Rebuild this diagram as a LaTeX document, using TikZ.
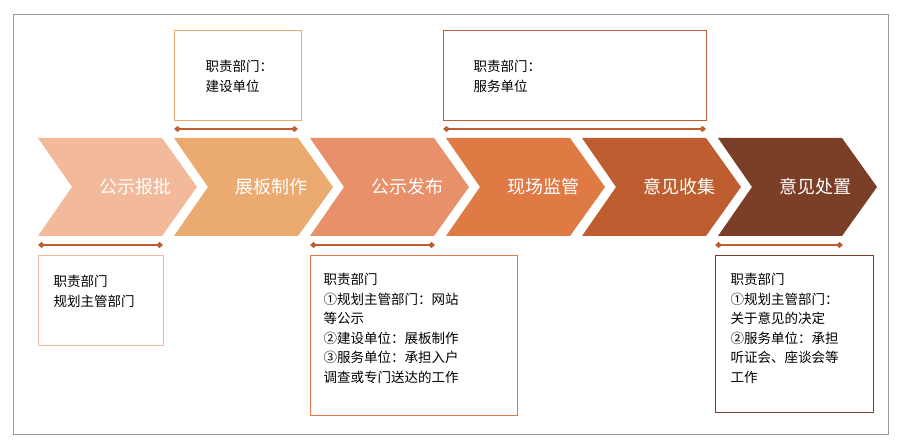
\documentclass[tikz,border=0pt]{standalone}
\usepackage{fontspec}
\setmainfont{Noto Sans CJK SC}
\usetikzlibrary{arrows.meta}
\definecolor{c1}{HTML}{F3B99B}
\definecolor{c2}{HTML}{EBAA70}
\definecolor{c3}{HTML}{E79069}
\definecolor{c4}{HTML}{E07A45}
\definecolor{c5}{HTML}{BE5E30}
\definecolor{c6}{HTML}{7B3F27}
\tikzset{
  lbl/.style={font=\fontsize{18}{20}\selectfont, text=white},
  infobox/.style={draw, line width=0.8pt, align=left, anchor=north west, inner sep=0pt,
     font=\fontsize{13.5}{19.5}\selectfont, text=black},
  brk/.style={draw=c5, line width=1.5pt, {Diamond[length=7pt,width=6pt]}-{Diamond[length=7pt,width=6pt]}}
}
\begin{document}
\begin{tikzpicture}[x=1pt,y=-1pt]
\useasboundingbox (0,0) rectangle (903,446);
\draw[gray!80, line width=0.8pt] (13,14) rectangle (888,434);
\foreach \i/\c/\t in {0/c1/公示报批,1/c2/展板制作,2/c3/公示发布,3/c4/现场监管,4/c5/意见收集,5/c6/意见处置}{
  \pgfmathsetmacro{\x}{38+136*\i}
  \fill[\c] (\x,138) -- (\x+124,138) -- (\x+159,187) -- (\x+124,236) -- (\x,236) -- (\x+34,187) -- cycle;
  \node[lbl] (ch\i) at (\x+97,187) {\t};
}
% top
\node[infobox, draw=c2, minimum width=127pt, minimum height=90pt, text width=97pt, text depth=0pt] (b1) at (174,30) {};
\node[anchor=north west, font=\fontsize{13.5}{19.5}\selectfont, align=left] (t1) at (202,57) {职责部门：\\建设单位};
\draw[brk] (174,129) coordinate (a1) -- (298,129) coordinate (a2);
\node[infobox, draw=c5, minimum width=263pt, minimum height=90pt] (b2) at (443,30) {};
\node[anchor=north west, font=\fontsize{13.5}{19.5}\selectfont, align=left] (t2) at (470,57) {职责部门：\\服务单位};
\draw[brk] (443,129) coordinate (a3) -- (706,129) coordinate (a4);
% bottom
\draw[brk] (38,245) coordinate (a5) -- (163,245) coordinate (a6);
\node[infobox, draw=c1, minimum width=125pt, minimum height=90pt] (b3) at (38,255) {};
\node[anchor=north west, font=\fontsize{13.5}{19.5}\selectfont, align=left] (t3) at (50,272) {职责部门\\规划主管部门};
\draw[brk] (310,245) coordinate (a7) -- (435,245) coordinate (a8);
\node[infobox, draw=c4, minimum width=207pt, minimum height=160pt] (b4) at (310,255) {};
\node[anchor=north west, font=\fontsize{13.5}{19.5}\selectfont, align=left] (t4) at (320,270) {职责部门\\①规划主管部门：网站\\等公示\\②建设单位：展板制作\\③服务单位：承担入户\\调查或专门送达的工作};
\draw[brk] (715,245) coordinate (a9) -- (843,245) coordinate (a10);
\node[infobox, draw=c6, minimum width=158pt, minimum height=157pt] (b5) at (715,255) {};
\node[anchor=north west, font=\fontsize{13.5}{19.5}\selectfont, align=left] (t5) at (727,270) {职责部门\\①规划主管部门：\\关于意见的决定\\②服务单位：承担\\听证会、座谈会等\\工作};
\end{tikzpicture}
\end{document}
